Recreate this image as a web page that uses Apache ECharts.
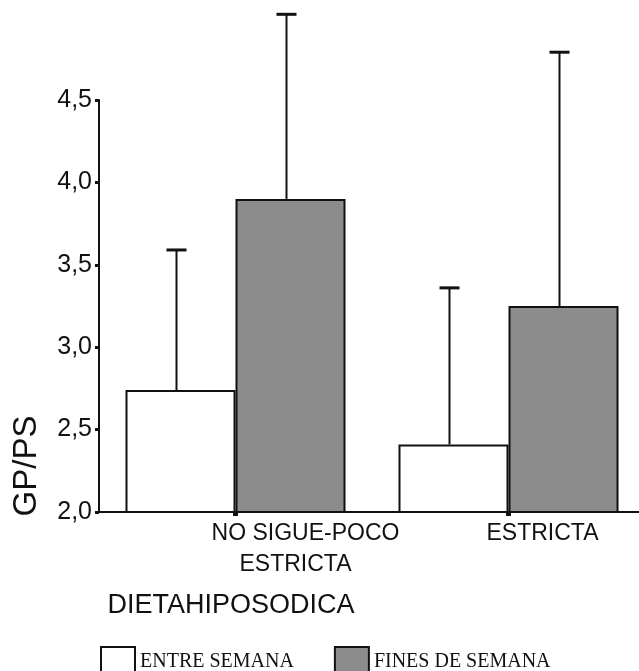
<!DOCTYPE html>
<html>
<head>
<meta charset="utf-8">
<script src="https://cdn.jsdelivr.net/npm/echarts@6/dist/echarts.min.js"></script>
<style>
html,body{margin:0;padding:0;background:#fff;}
#chart{width:639px;height:671px;}
</style>
</head>
<body>
<div id="chart"></div>
<script>
const categories = ['NO SIGUE-POCO\nESTRICTA', 'ESTRICTA'];
const seriesNames = ['ENTRE SEMANA', 'FINES DE SEMANA'];
const entreMean = [2.74, 2.41];
const entreUpper = [3.59, 3.36];
const finesMean = [3.90, 3.25];
const finesUpper = [5.02, 4.79];
const yTicks = [2.0, 2.5, 3.0, 3.5, 4.0, 4.5];
const yTickLabels = ['2,0', '2,5', '3,0', '3,5', '4,0', '4,5'];
const xAxisTitle = 'DIETAHIPOSODICA';
const yAxisTitle = 'GP/PS';

const BAR_W = 110;
const labelPads = [[140, 120], [68]];
const rich = {};
categories.forEach((c, i) => {
  c.split('\n').forEach((ln, j) => {
    rich['t' + i + '_' + j] = {
      fontSize: 23, fontFamily: 'Liberation Sans', color: '#111', lineHeight: 31,
      padding: [0, 0, 0, labelPads[i][j]]
    };
  });
});

const errData = [];
categories.forEach((c, i) => {
  errData.push([i, entreMean[i], entreUpper[i], -1]);
  errData.push([i, finesMean[i], finesUpper[i], 1]);
});

const chart = echarts.init(document.getElementById('chart'), null, {renderer: 'canvas'});
chart.setOption({
  backgroundColor: '#fff',
  animation: false,
  grid: {left: 99, top: 100, width: 546, height: 412, containLabel: false, outerBoundsMode: 'none'},
  legend: {
    data: seriesNames,
    left: 95, top: 641,
    itemWidth: 34, itemHeight: 30, itemGap: 40,
    icon: 'rect',
    textStyle: {fontFamily: 'Liberation Serif', fontSize: 20, color: '#111'}
  },
  xAxis: {
    type: 'category',
    data: categories,
    name: xAxisTitle,
    nameLocation: 'middle',
    nameGap: 80,
    nameMoveOverlap: false,
    nameTextStyle: {fontSize: 27, fontFamily: 'Liberation Sans', color: '#111', padding: [0, 282, 0, 0]},
    axisLine: {lineStyle: {color: '#111', width: 2}},
    axisTick: {show: true, alignWithLabel: true, length: 4, lineStyle: {color: '#111', width: 5}},
    axisLabel: {
      margin: 6,
      interval: 0,
      formatter: (value, index) => value.split('\n').map((ln, j) => '{t' + index + '_' + j + '|' + ln + '}').join('\n'),
      rich: rich
    }
  },
  yAxis: {
    type: 'value',
    min: 2.0, max: 4.5, interval: 0.5,
    name: yAxisTitle,
    nameLocation: 'middle',
    nameGap: 56,
    nameRotate: 90,
    nameMoveOverlap: false,
    nameTextStyle: {fontSize: 33, fontFamily: 'Liberation Sans', color: '#111', padding: [0, 320, 0, 0]},
    splitLine: {show: false},
    axisLine: {show: true, lineStyle: {color: '#111', width: 2}},
    axisTick: {show: true, length: 4, lineStyle: {color: '#111', width: 3}},
    axisLabel: {
      margin: 7,
      fontSize: 25, fontFamily: 'Liberation Sans', color: '#111',
      formatter: (v) => {
        const i = yTicks.findIndex(t => Math.abs(t - v) < 1e-6);
        return i >= 0 ? yTickLabels[i] : '';
      }
    }
  },
  series: [
    {
      name: seriesNames[0], type: 'bar', data: entreMean,
      barWidth: BAR_W, barGap: '0%',
      itemStyle: {color: '#ffffff', borderColor: '#111', borderWidth: 2}
    },
    {
      name: seriesNames[1], type: 'bar', data: finesMean,
      barWidth: BAR_W, barGap: '0%',
      itemStyle: {color: '#8c8c8c', borderColor: '#111', borderWidth: 2}
    },
    {
      type: 'custom',
      clip: false,
      z: 10,
      data: errData,
      encode: {x: 0, y: [1, 2]},
      renderItem: function (params, api) {
        const cat = api.value(0), mean = api.value(1), up = api.value(2), side = api.value(3);
        const base = api.coord([cat, mean]);
        const top = api.coord([cat, up]);
        const x = base[0] + side * BAR_W / 2 - 4;
        return {
          type: 'group',
          children: [
            {type: 'line', shape: {x1: x, y1: base[1], x2: x, y2: top[1]}, style: {stroke: '#111', lineWidth: 2}},
            {type: 'line', shape: {x1: x - 10, y1: top[1], x2: x + 10, y2: top[1]}, style: {stroke: '#111', lineWidth: 3}}
          ]
        };
      }
    }
  ]
});
</script>
</body>
</html>
